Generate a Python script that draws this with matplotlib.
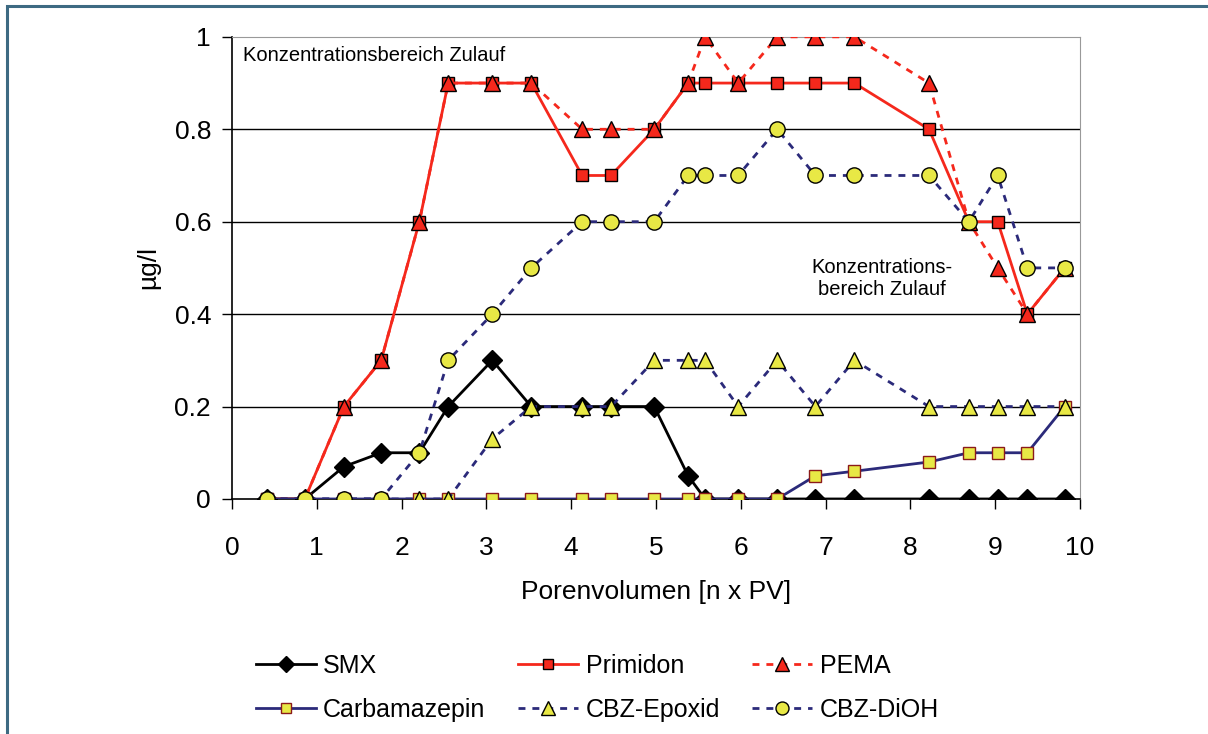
import matplotlib.pyplot as plt
from matplotlib.patches import Rectangle

plt.rcParams['font.family'] = ['Liberation Sans', 'DejaVu Sans']

# Porenvolumen (x) and concentrations in ug/l
pv = [0.41, 0.86, 1.32, 1.76, 2.21, 2.55, 3.07, 3.53, 4.13, 4.47, 4.98,
      5.38, 5.58, 5.97, 6.43, 6.88, 7.34, 8.22, 8.69, 9.03, 9.38, 9.82]
smx = [0, 0, 0.07, 0.1, 0.1, 0.2, 0.3, 0.2, 0.2, 0.2, 0.2,
       0.05, 0, 0, 0, 0, 0, 0, 0, 0, 0, 0]
primidon = [0, 0, 0.2, 0.3, 0.6, 0.9, 0.9, 0.9, 0.7, 0.7, 0.8,
            0.9, 0.9, 0.9, 0.9, 0.9, 0.9, 0.8, 0.6, 0.6, 0.4, 0.5]
pema = [0, 0, 0.2, 0.3, 0.6, 0.9, 0.9, 0.9, 0.8, 0.8, 0.8,
        0.9, 1.0, 0.9, 1.0, 1.0, 1.0, 0.9, 0.6, 0.5, 0.4, 0.5]
carbamazepin = [0, 0, 0, 0, 0, 0, 0, 0, 0, 0, 0,
                0, 0, 0, 0, 0.05, 0.06, 0.08, 0.1, 0.1, 0.1, 0.2]
cbz_epoxid = [0, 0, 0, 0, 0, 0, 0.13, 0.2, 0.2, 0.2, 0.3,
              0.3, 0.3, 0.2, 0.3, 0.2, 0.3, 0.2, 0.2, 0.2, 0.2, 0.2]
cbz_dioh = [0, 0, 0, 0, 0.1, 0.3, 0.4, 0.5, 0.6, 0.6, 0.6,
            0.7, 0.7, 0.7, 0.8, 0.7, 0.7, 0.7, 0.6, 0.7, 0.5, 0.5]

red = '#f5281c'
navy = '#2b2a7a'
yellow = '#e8e845'
dash = (0, (2.5, 2.5))

fig = plt.figure(figsize=(12.08, 7.34), dpi=100)
ax = fig.add_axes([0.192, 0.3202, 0.702, 0.6296])

l1, = ax.plot(pv, smx, color='black', lw=2, marker='D', ms=10,
              mfc='black', mec='black', label='SMX', zorder=3)
l2, = ax.plot(pv, primidon, color=red, lw=2, marker='s', ms=9,
              mfc=red, mec='black', mew=1, label='Primidon', zorder=4)
l3, = ax.plot(pv, pema, color=red, lw=2, ls=dash, marker='^', ms=12,
              mfc=red, mec='black', mew=1, label='PEMA', zorder=5)
l4, = ax.plot(pv, carbamazepin, color=navy, lw=2, marker='s', ms=9,
              mfc=yellow, mec='#8b1a1a', mew=1, label='Carbamazepin', zorder=6)
l5, = ax.plot(pv, cbz_epoxid, color=navy, lw=2, ls=dash, marker='^', ms=12,
              mfc=yellow, mec='black', mew=1, label='CBZ-Epoxid', zorder=7)
l6, = ax.plot(pv, cbz_dioh, color=navy, lw=2, ls=dash, marker='o', ms=11,
              mfc=yellow, mec='black', mew=1, label='CBZ-DiOH', zorder=8)

ax.set_xlim(0, 10)
ax.set_ylim(0, 1)
ax.set_xticks(range(0, 11))
ax.set_yticks([0, 0.2, 0.4, 0.6, 0.8, 1])
ax.set_yticklabels(['0', '0.2', '0.4', '0.6', '0.8', '1'])
for y in [0.2, 0.4, 0.6, 0.8]:
    ax.axhline(y, color='black', lw=1, zorder=1)
ax.spines['top'].set_color('#999999')
ax.spines['right'].set_color('#999999')
ax.spines['left'].set_linewidth(1.2)
ax.spines['bottom'].set_linewidth(1.2)
ax.tick_params(direction='out', length=7, width=1, labelsize=19, pad=8)
ax.tick_params(axis='x', pad=20)
ax.set_xlabel('Porenvolumen [n x PV]', fontsize=19, labelpad=14)
ax.set_ylabel('µg/l', fontsize=19, labelpad=10)

ax.text(0.13, 0.96, 'Konzentrationsbereich Zulauf', fontsize=14.5,
        ha='left', va='center')
ax.text(7.66, 0.477, 'Konzentrations-\nbereich Zulauf', fontsize=14.5,
        ha='center', va='center', linespacing=1.15)

# legend filled column-wise, so order handles to read row by row
handles = [l1, l4, l2, l5, l3, l6]
fig.legend(handles, [h.get_label() for h in handles], loc='upper left',
           bbox_to_anchor=(0.193, 0.14), ncol=3, markerscale=0.85,
           frameon=False, fontsize=18, handlelength=2.4, handletextpad=0.3,
           columnspacing=1.3, labelspacing=0.8, numpoints=1)

fig.patches.append(Rectangle((0.0055, -0.1), 1.2, 1.092, transform=fig.transFigure,
                             fill=False, edgecolor='#3d6a82', lw=2.2))

fig.savefig('out.png', dpi=100)
